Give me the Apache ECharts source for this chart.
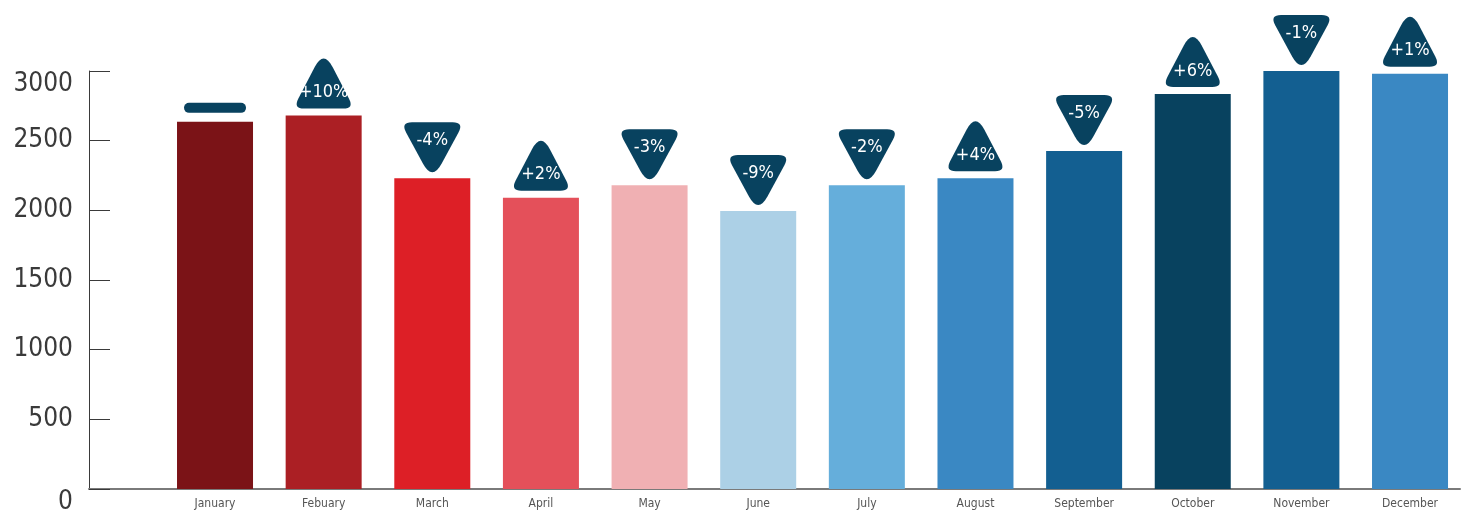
<!DOCTYPE html>
<html>
<head>
<meta charset="utf-8">
<script src="https://cdn.jsdelivr.net/npm/echarts@6/dist/echarts.min.js"></script>
<style>
html,body{margin:0;padding:0;background:#fff;}
#chart{width:1466px;height:512px;}
</style>
</head>
<body>
<div id="chart"></div>
<script>
var categories = ['January','Febuary','March','April','May','June','July','August','September','October','November','December'];
var values = [2635, 2680, 2230, 2090, 2180, 1995, 2180, 2230, 2425, 2835, 3000, 2980];
var changes = [0, 10, -4, 2, -3, -9, -2, 4, -5, 6, -1, 1];
var barColors = ['#7b1317','#ab1f24','#dd1f26','#e4505a','#f0b0b3','#acd0e6','#65aedb','#3a88c3','#135f91','#08425f','#135f91','#3a88c3'];
var yTicks = [0, 500, 1000, 1500, 2000, 2500, 3000];

var FONT = "'Liberation Sans Narrow','DejaVu Sans Condensed',sans-serif";
var NAVY = '#08425f';
var UP = 'path://M35.4 26.2 Q50 0 64.6 26.2 L91.3 74.3 Q100 90 82 90 L18 90 Q0 90 8.7 74.3 Z';
var DOWN = 'path://M35.4 63.8 Q50 90 64.6 63.8 L91.3 15.7 Q100 0 82 0 L18 0 Q0 0 8.7 15.7 Z';
var PILL = 'path://M5 0 L57 0 A5 5 0 0 1 57 10 L5 10 A5 5 0 0 1 5 0 Z';

var barData = values.map(function (v, i) {
  return { value: [i, v], itemStyle: { color: barColors[i] } };
});
var markData = values.map(function (v, i) {
  var c = changes[i];
  var item = { value: [i, v] };
  if (c === 0) {
    item.symbol = PILL; item.symbolSize = [62, 10]; item.symbolOffset = [0, -14];
    item.label = { show: false };
  } else if (c > 0) {
    item.symbol = UP; item.symbolSize = [54, 50]; item.symbolOffset = [0, -32];
    item.label = { show: true, offset: [0, 9] };
  } else {
    item.symbol = DOWN; item.symbolSize = [56, 50]; item.symbolOffset = [0, -31];
    item.label = { show: true, offset: [0, -7] };
  }
  return item;
});

var chart = echarts.init(document.getElementById('chart'), null, { renderer: 'canvas' });
chart.setOption({
  animation: false,
  backgroundColor: '#ffffff',
  grid: { left: 89, right: 6, top: 71, bottom: 23, containLabel: false, outerBoundsMode: 'none' },
  xAxis: {
    type: 'value',
    min: -1.16,
    max: 11.46,
    splitLine: { show: false },
    axisTick: { show: false },
    axisLine: { show: true, onZero: false, lineStyle: { color: '#7a7a7a', width: 2 } },
    axisLabel: {
      customValues: categories.map(function (c, i) { return i; }),
      formatter: function (v) { return categories[Math.round(v)] || ''; },
      color: '#555555', fontSize: 12, fontFamily: FONT, margin: 9
    }
  },
  yAxis: {
    type: 'value',
    min: 0, max: 3000, interval: 500,
    splitLine: { show: false },
    axisLine: { show: true, onZero: false, lineStyle: { color: '#3a3a3a', width: 1 } },
    axisTick: { show: true, inside: true, length: 21, lineStyle: { color: '#3a3a3a', width: 1 } },
    axisLabel: {
      color: '#3a3a3a', fontSize: 26, fontFamily: FONT, margin: 16,
      verticalAlignMaxLabel: 'top', verticalAlignMinLabel: 'top',
      formatter: function (v) { return yTicks.indexOf(v) >= 0 ? String(v) : ''; }
    }
  },
  series: [
    {
      type: 'bar',
      barWidth: 76,
      data: barData,
      z: 2
    },
    {
      type: 'scatter',
      data: markData,
      z: 5,
      itemStyle: { color: NAVY, opacity: 1 },
      label: {
        position: 'inside',
        color: '#ffffff',
        fontSize: 18,
        fontFamily: FONT,
        formatter: function (p) {
          var c = changes[p.dataIndex];
          return (c > 0 ? '+' : '') + c + '%';
        }
      }
    }
  ]
});
</script>
</body>
</html>
